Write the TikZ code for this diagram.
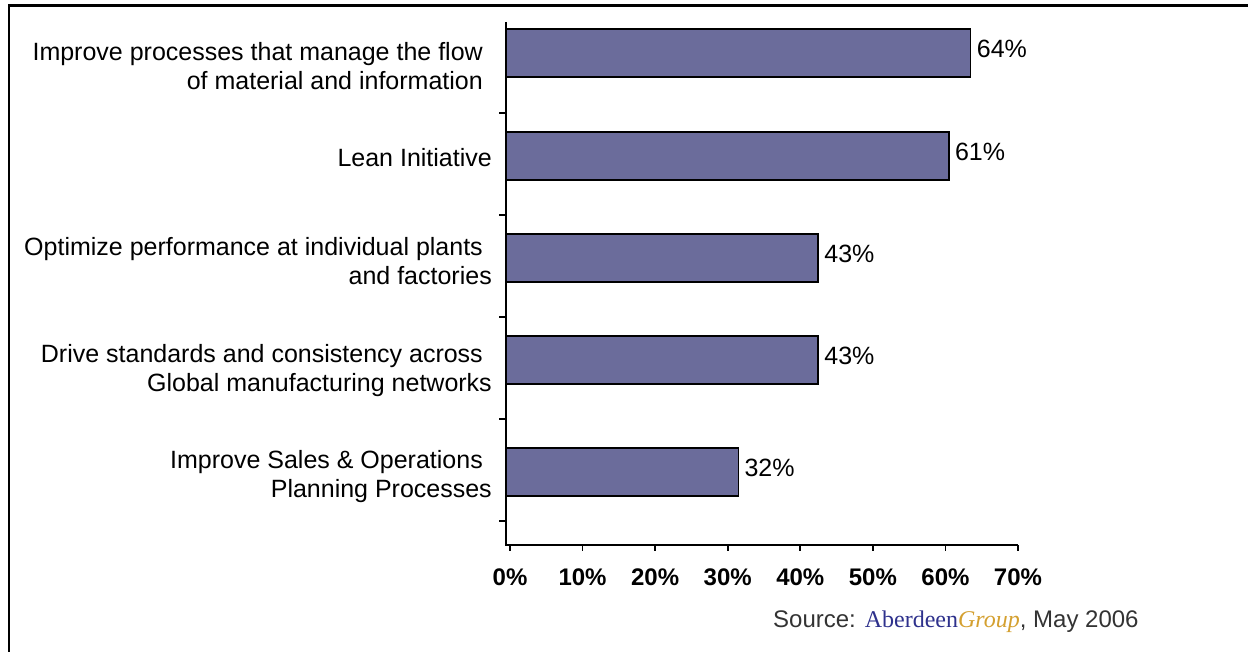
\documentclass[tikz,border=0pt]{standalone}
\usepackage{fontspec}
\setmainfont{Liberation Sans}
\newfontfamily\serifface{Liberation Serif}
\usepackage{tikz}
\definecolor{barfill}{RGB}{107,108,155}
\definecolor{abnavy}{RGB}{46,49,140}
\definecolor{abgold}{RGB}{212,160,48}
\definecolor{srcgray}{RGB}{51,51,51}
\newcommand\trail{\kern9pt}
\newcommand\catfont{\fontsize{25}{29}\selectfont}
\tikzset{
  bar/.style={draw=black, line width=1.5pt, fill=barfill},
  axis/.style={line width=1.6pt},
  catlabel/.style={anchor=east, align=right, inner sep=0pt, font=\catfont},
  vallabel/.style={anchor=west, inner sep=0pt, font=\fontsize{25}{29}\selectfont},
  ticklabel/.style={inner sep=0pt, font=\fontsize{24}{28}\selectfont\bfseries}
}

\begin{document}
\begin{tikzpicture}[x=1pt, y=-1pt]
  \useasboundingbox (0,0) rectangle (1248,652);
  % frame
  \draw[line width=2.5pt] (9,652) -- (9,5.5) -- (1248,5.5);
  % axes
  \coordinate (origin) at (506,545);
  \draw[axis] (506,22) -- (origin) -- (1018,545);
  \foreach \y in {113,215,317,419,521} {
    \draw[axis] (506,\y) --+ (-7,0);
  }
  \foreach \k in {0,...,7} {
    \pgfmathsetmacro\xt{510+72.57*\k}
    \pgfmathtruncatemacro\pc{10*\k}
    \draw[axis] (\xt,545) --+ (0,6);
    \node[ticklabel] (tick\k) at (\xt,577) {\pc\%};
  }
  % bars
  \foreach \v/\top/\n in {64/29/a, 61/132/b, 43/234/c, 43/336/d, 32/448/e} {
    \draw[bar] (506,\top) rectangle +(\v*7.26,48);
    \node[vallabel] (val-\n) at ({506+\v*7.26+6},\top+20) {\v\%};
  }
  % categories
  \node[catlabel] (cat-a) at (492,66) {Improve processes that manage the flow\trail\\of material and information\trail};
  \node[catlabel] (cat-b) at (492,157.5) {Lean Initiative};
  \node[catlabel] (cat-c) at (492,261) {Optimize performance at individual plants\trail\\and factories};
  \node[catlabel] (cat-d) at (492,371) {Drive standards and consistency across\trail\\Global manufacturing networks};
  \node[catlabel] (cat-e) at (492,477) {Improve Sales \& Operations\trail\\Planning Processes};
  % source
  \node[anchor=west, inner sep=0pt, text=srcgray, font=\fontsize{24}{28}\selectfont] (source) at (773,622)
    {Source: {\serifface\color{abnavy}Aberdeen}{\serifface\itshape\color{abgold}Group}, May 2006};
\end{tikzpicture}
\end{document}
